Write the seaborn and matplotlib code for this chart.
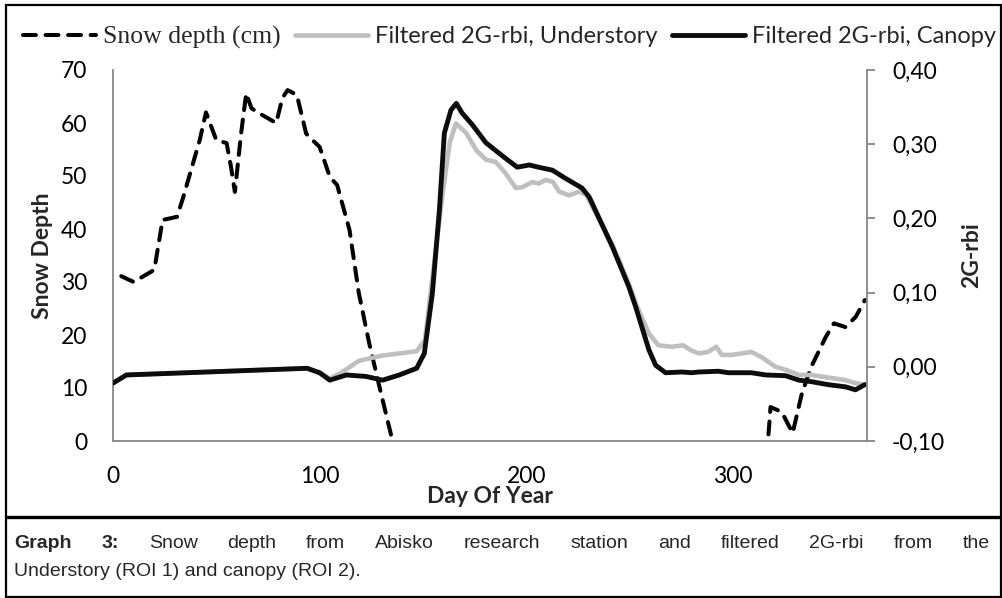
import matplotlib
matplotlib.use("Agg")
import matplotlib.pyplot as plt
from matplotlib.patches import Rectangle
from matplotlib.lines import Line2D
import seaborn as sns

# ---------------- data ----------------
snow_day_winter = [4, 10, 20, 24, 31, 34, 42, 45, 50, 55, 57, 59, 62, 64.5, 67, 70, 79, 82, 84.5,
                   89, 93.5, 96.5, 100, 105, 108.5, 114.5, 119, 124, 129, 135, 138]
snow_depth_winter = [31.1, 30.0, 32.3, 41.7, 42.3, 46.0, 56.8, 62.0, 56.8, 56.2, 52.0, 47.0, 58.0,
                     65.6, 62.8, 62.0, 60.0, 64.7, 66.2, 65.3, 58.0, 56.8, 55.5, 49.8, 48.3, 39.8,
                     27.9, 18.5, 10.2, 0.5, -4.0]
snow_day_autumn = [316.5, 318.3, 323.7, 329, 333.5, 338, 345, 349, 354.5, 359.5, 364]
snow_depth_autumn = [-3.0, 6.4, 5.5, 1.5, 9.0, 14.0, 19.6, 22.2, 21.5, 23.4, 26.6]

canopy_day = [0, 6.5, 94, 100, 105, 113, 122.5, 130.5, 138.6, 147, 150.7, 154.6, 158, 160.4, 163.6,
              166.2, 169, 174, 180.5, 185, 190, 195.7, 201.5, 206, 212.7, 219, 227, 230.5, 241.7,
              249.7, 253, 259.4, 262.7, 267.5, 275.4, 280, 283.6, 293, 298, 309, 316, 325.6, 332,
              338, 346, 354.6, 359.4, 364]
canopy_rbi = [-0.022, -0.011, -0.002, -0.008, -0.018, -0.011, -0.013, -0.018, -0.011, -0.002, 0.018,
              0.099, 0.211, 0.315, 0.346, 0.355, 0.342, 0.326, 0.302, 0.292, 0.281, 0.269, 0.272,
              0.269, 0.265, 0.254, 0.241, 0.229, 0.162, 0.108, 0.081, 0.023, 0.002, -0.008, -0.007,
              -0.008, -0.007, -0.006, -0.008, -0.008, -0.011, -0.012, -0.018, -0.020, -0.024,
              -0.027, -0.031, -0.024]

under_day = [0, 6.5, 94, 100, 105, 111, 119, 130, 138.6, 147, 151, 154.6, 159.6, 163, 166, 171,
             175.8, 180.6, 185.3, 190, 195, 198, 203, 206, 209.6, 213, 216, 220.8, 225.6, 229,
             241.7, 249.7, 253, 259.4, 264, 270.5, 276, 280, 283.6, 288, 292, 294.7, 299.5, 309,
             314, 320.7, 325.6, 332, 338, 354.6, 359.4, 364]
under_rbi = [-0.022, -0.011, -0.002, -0.008, -0.016, -0.007, 0.008, 0.015, 0.018, 0.021, 0.036, 0.12,
             0.234, 0.302, 0.328, 0.315, 0.292, 0.279, 0.276, 0.261, 0.241, 0.242, 0.249, 0.247,
             0.252, 0.249, 0.236, 0.231, 0.236, 0.232, 0.165, 0.112, 0.086, 0.045, 0.029, 0.027,
             0.029, 0.022, 0.018, 0.020, 0.027, 0.016, 0.016, 0.020, 0.013, 0.0, -0.004, -0.011,
             -0.011, -0.018, -0.022, -0.024]

x_ticks = [0, 100, 200, 300]
left_ticks = [0, 10, 20, 30, 40, 50, 60, 70]
right_ticks = [-0.10, 0.00, 0.10, 0.20, 0.30, 0.40]
right_tick_labels = ["-0,10", "0,00", "0,10", "0,20", "0,30", "0,40"]
legend_labels = ["Snow depth (cm)", "Filtered 2G-rbi, Understory", "Filtered 2G-rbi, Canopy"]
caption_line1 = ["Graph", "3:", "Snow", "depth", "from", "Abisko", "research", "station", "and",
                 "filtered", "2G-rbi", "from", "the"]
caption_line2 = "Understory (ROI 1) and canopy (ROI 2)."

# ---------------- style ----------------
sns.set_theme(style="white")
plt.rcParams["font.family"] = ["Lato", "DejaVu Sans"]
caption_family = ["Liberation Sans", "DejaVu Sans"]

W, H = 1003, 598
fig = plt.figure(figsize=(W / 100, H / 100), dpi=100)
fig.patch.set_facecolor("white")

L, R, T, B = 113, 867, 70, 441
ax = fig.add_axes([L / W, 1 - B / H, (R - L) / W, (B - T) / H])
ax2 = ax.twinx()

grey_axis = "#868686"
snow_style = dict(color="black", lw=2.9, linestyle=(0, (3.2, 2.4)), dash_capstyle="round")

sns.lineplot(x=snow_day_winter, y=snow_depth_winter, ax=ax, label=legend_labels[0], **snow_style)
sns.lineplot(x=snow_day_autumn, y=snow_depth_autumn, ax=ax, **snow_style)
sns.lineplot(x=under_day, y=under_rbi, ax=ax2, color="#bfbfbf", lw=3.3,
             label=legend_labels[1], solid_capstyle="round", solid_joinstyle="round")
sns.lineplot(x=canopy_day, y=canopy_rbi, ax=ax2, color="#0d0d0d", lw=3.5,
             label=legend_labels[2], solid_capstyle="round", solid_joinstyle="round")

for a in (ax, ax2):
    if a.get_legend() is not None:
        a.get_legend().remove()

ax.set_xlim(0, 365)
ax.set_ylim(0, 70)
ax2.set_ylim(-0.10, 0.40)
ax.set_xticks(x_ticks)
ax.set_yticks(left_ticks)
ax2.set_yticks(right_ticks)
ax2.set_yticklabels(right_tick_labels)

for a in (ax, ax2):
    for s in a.spines.values():
        s.set_visible(False)
ax.spines["left"].set_visible(True)
ax.spines["bottom"].set_visible(True)
ax2.spines["right"].set_visible(True)
for s in (ax.spines["left"], ax.spines["bottom"], ax2.spines["right"]):
    s.set_color(grey_axis)
    s.set_linewidth(1.3)

tick_fs = 16.5
ax.tick_params(axis="x", length=0, pad=18, labelsize=tick_fs, colors="black")
ax.tick_params(axis="y", length=0, pad=18.5, labelsize=tick_fs, colors="black")
ax2.tick_params(axis="y", right=True, length=6, width=1.3, color=grey_axis, pad=12,
                labelsize=tick_fs, labelcolor="black")
ax.grid(False)
ax2.grid(False)

ax.set_xlabel("Day Of Year", fontsize=16.5, fontweight="bold")
ax.xaxis.set_label_coords(0.5, -0.12)
ax.set_ylabel("Snow Depth", fontsize=16.5, fontweight="bold", va="center")
ax.yaxis.set_label_coords((42 - L) / (R - L), 0.5)
ax2.set_ylabel("2G-rbi", fontsize=16.5, fontweight="bold", rotation=90, va="center")
ax2.yaxis.set_label_coords((972 - L) / (R - L), 0.5)

ax2.set_zorder(ax.get_zorder() + 1)
ax2.patch.set_visible(False)

# legend
h1 = ax.get_lines()[0]
h2, h3 = ax2.get_lines()[0], ax2.get_lines()[1]
leg = fig.legend([h1, h2, h3], legend_labels, loc="center", bbox_to_anchor=(0.508, 1 - 37 / H),
                 ncol=3, frameon=False, fontsize=17, handlelength=3.1, handletextpad=0.3,
                 columnspacing=0.6, borderaxespad=0)
leg.get_texts()[0].set_family(["Liberation Serif", "DejaVu Serif"])
leg.get_texts()[0].set_fontsize(18.5)

# frame and caption box
fig.add_artist(Rectangle((6 / W, 1 - 597 / H), (1001 - 6) / W, (597 - 5) / H,
                         transform=fig.transFigure, fill=False, edgecolor="black", lw=1.6))
fig.add_artist(Line2D([6 / W, 1001 / W], [1 - 517 / H] * 2, transform=fig.transFigure,
                      color="black", lw=2.4))

cap_fs = 14
x0, x1 = 14, 990
renderer = fig.canvas.get_renderer()
texts = []
for i, w in enumerate(caption_line1):
    t = fig.text(0, 1 - 543 / H, w, fontsize=cap_fs, family=caption_family,
                 fontweight="bold" if i < 2 else "normal", va="center", ha="left")
    texts.append(t)
widths = [t.get_window_extent(renderer).width for t in texts]
gap = ((x1 - x0) - sum(widths)) / (len(texts) - 1)
xpos = x0
for t, wd in zip(texts, widths):
    t.set_x(xpos / W)
    xpos += wd + gap
fig.text(x0 / W, 1 - 572 / H, caption_line2, fontsize=cap_fs, family=caption_family,
         va="center", ha="left")

fig.savefig("out.png", dpi=100, facecolor="white")
